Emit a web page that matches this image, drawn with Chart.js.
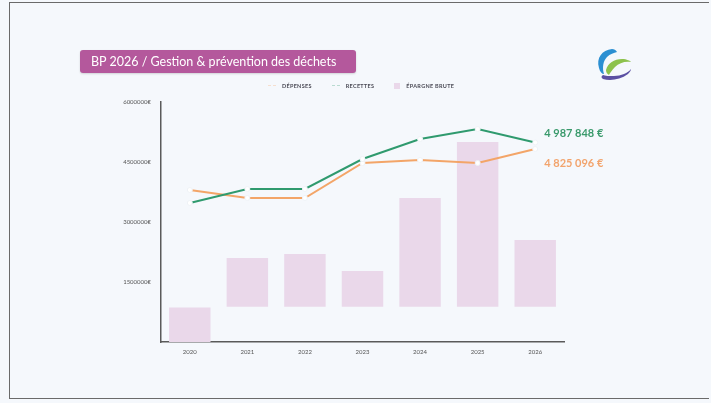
<!DOCTYPE html>
<html lang="fr">
<head>
<meta charset="utf-8">
<title>BP 2026 / Gestion & prévention des déchets</title>
<script src="https://cdn.jsdelivr.net/npm/chart.js@4.4.1/dist/chart.umd.min.js"></script>
<style>
    html, body {
        margin: 0;
        padding: 0;
        width: 711px;
        height: 403px;
        overflow: hidden;
        background: #f5f8fc;
        font-family: Lato, "Open Sans", sans-serif;
    }
    #frame {
        position: absolute;
        left: 9px;
        top: 2px;
        width: 700px;
        height: 397px;
        border: 1.5px solid #6a6a6a;
        border-right: none;
        box-sizing: border-box;
    }
    #title {
        position: absolute;
        left: 80px;
        top: 50px;
        width: 276px;
        height: 23px;
        background: #b4589c;
        border-radius: 3px;
        box-shadow: 0 1px 2px rgba(0, 0, 0, 0.15);
        color: #fff;
        font-size: 12.5px;
        line-height: 23px;
        padding-left: 11px;
        box-sizing: border-box;
        white-space: nowrap;
    }
    #legend {
        position: absolute;
        top: 83px;
        left: 268px;
        display: flex;
        gap: 20px;
        font-size: 5.5px;
        font-weight: bold;
        color: #4a4a55;
        letter-spacing: 0.3px;
    }
    #legend span.item { display: flex; align-items: center; }
    #legend span.mark { display: inline-block; width: 8px; margin-right: 6px; }
    #logo { position: absolute; left: 592px; top: 46px; }
    #wrap { position: absolute; left: 0; top: 0; width: 711px; height: 403px; }
</style>
</head>
<body>
<div id="frame"></div>
<div id="wrap"><canvas id="chart" width="711" height="403"></canvas></div>
<div id="title">BP 2026 / Gestion &amp; prévention des déchets</div>
<div id="legend"></div>
<svg id="logo" width="48" height="40" viewBox="0 0 48 40">
    <path d="M20 3 C10 4 4 12 7 22 C8 26 10 28 12 28 C10 22 11 15 15 11 C18 8 22 7 25 6 C24 4 22 3 20 3 Z" fill="#2b8fd2"/>
    <path d="M14 24 C16 17 22 13 30 13 C35 13 38 15 39 16 C33 15 27 17 23 21 C20 24 18 27 17 29 C15 28 14 26 14 24 Z" fill="#8dc24c"/>
    <path d="M11 33 C18 35 28 34 36 28 C38 26 39 24 39 23 C36 27 29 30 22 30 C17 30 13 30 11 29 C9 30 9 32 11 33 Z" fill="#5b50a3"/>
</svg>
<script>
    // Catégories (années)
    const annees = ['2020', '2021', '2022', '2023', '2024', '2025', '2026'];

    // Séries
    const depenses = [3800000, 3600000, 3600000, 4475000, 4550000, 4475000, 4825096];
    const recettes = [3475000, 3825000, 3825000, 4575000, 5075000, 5325000, 4987848];
    const epargneBas = [0, 880000, 880000, 880000, 880000, 880000, 880000];
    const epargneHaut = [860000, 2100000, 2200000, 1775000, 3600000, 5000000, 2550000];

    // Axe Y
    const yTicks = [0, 1500000, 3000000, 4500000, 6000000];

    const legendLabels = ['DÉPENSES', 'RECETTES', 'ÉPARGNE BRUTE'];

    const fmt = v => Math.round(v).toString().replace(/\B(?=(\d{3})+(?!\d))/g, ' ') + ' €';

    // Étiquettes des dernières valeurs
    const endLabels = {
        id: 'endLabels',
        afterDatasetsDraw(chart) {
            const ctx = chart.ctx;
            chart.data.datasets.forEach((ds, i) => {
                if (ds.type !== 'line') return;
                const meta = chart.getDatasetMeta(i);
                const last = meta.data[meta.data.length - 1];
                const val = ds.data[ds.data.length - 1];
                ctx.save();
                ctx.font = 'bold 11px Lato, "Open Sans", sans-serif';
                ctx.fillStyle = ds.labelColor;
                ctx.textBaseline = 'middle';
                ctx.fillText(fmt(val), last.x + 9, last.y + ds.labelOffset);
                ctx.restore();
            });
        }
    };

    const chart = new Chart(document.getElementById('chart'), {
        data: {
            labels: annees,
            datasets: [
                {
                    type: 'line',
                    label: legendLabels[0],
                    data: depenses,
                    borderColor: '#f3a568',
                    borderWidth: 2,
                    pointRadius: 2.5,
                    pointBackgroundColor: '#ffffff',
                    pointBorderColor: '#eef2f6',
                    pointBorderWidth: 1,
                    tension: 0,
                    labelColor: '#f2a46d',
                    labelOffset: 14,
                    order: 1
                },
                {
                    type: 'line',
                    label: legendLabels[1],
                    data: recettes,
                    borderColor: '#2f9a6e',
                    borderWidth: 2,
                    pointRadius: 2.5,
                    pointBackgroundColor: '#ffffff',
                    pointBorderColor: '#eef2f6',
                    pointBorderWidth: 1,
                    tension: 0,
                    labelColor: '#3a9a6c',
                    labelOffset: -9,
                    order: 0
                },
                {
                    type: 'bar',
                    label: legendLabels[2],
                    data: epargneBas.map((b, i) => [b, epargneHaut[i]]),
                    backgroundColor: '#ead8ea',
                    borderSkipped: false,
                    categoryPercentage: 0.8,
                    barPercentage: 0.9,
                    order: 2
                }
            ]
        },
        options: {
            responsive: false,
            animation: false,
            layout: { padding: { left: 95, right: 147, top: 102, bottom: 41 } },
            plugins: {
                legend: { display: false },
                tooltip: { enabled: false }
            },
            scales: {
                x: {
                    grid: { display: false, drawTicks: false },
                    border: { color: '#5a5a5a', width: 1.5 },
                    ticks: {
                        color: '#555',
                        font: { size: 6, family: 'Lato' },
                        padding: 6
                    },
                    afterFit: s => { s.height = 20; }
                },
                y: {
                    min: 0,
                    max: 6000000,
                    afterBuildTicks: s => { s.ticks = yTicks.map(v => ({ value: v })); },
                    grid: { display: false, drawTicks: false },
                    border: { color: '#5a5a5a', width: 1.5 },
                    ticks: {
                        color: '#555',
                        font: { size: 6, family: 'Lato' },
                        padding: 10,
                        callback: v => v === 0 ? '' : v + '€'
                    },
                    afterFit: s => { s.width = 66; }
                }
            }
        },
        plugins: [endLabels]
    });

    // Légende HTML construite à partir des jeux de données
    const legend = document.getElementById('legend');
    chart.data.datasets.forEach(ds => {
        const item = document.createElement('span');
        item.className = 'item';
        const mark = document.createElement('span');
        mark.className = 'mark';
        if (ds.type === 'bar') {
            mark.style.height = '6px';
            mark.style.width = '6px';
            mark.style.background = ds.backgroundColor;
        } else {
            mark.style.height = '1px';
            mark.style.borderTop = '1px dashed ' + ds.borderColor;
            mark.style.opacity = '0.3';
        }
        item.appendChild(mark);
        item.appendChild(document.createTextNode(ds.label));
        legend.appendChild(item);
    });
</script>
</body>
</html>
